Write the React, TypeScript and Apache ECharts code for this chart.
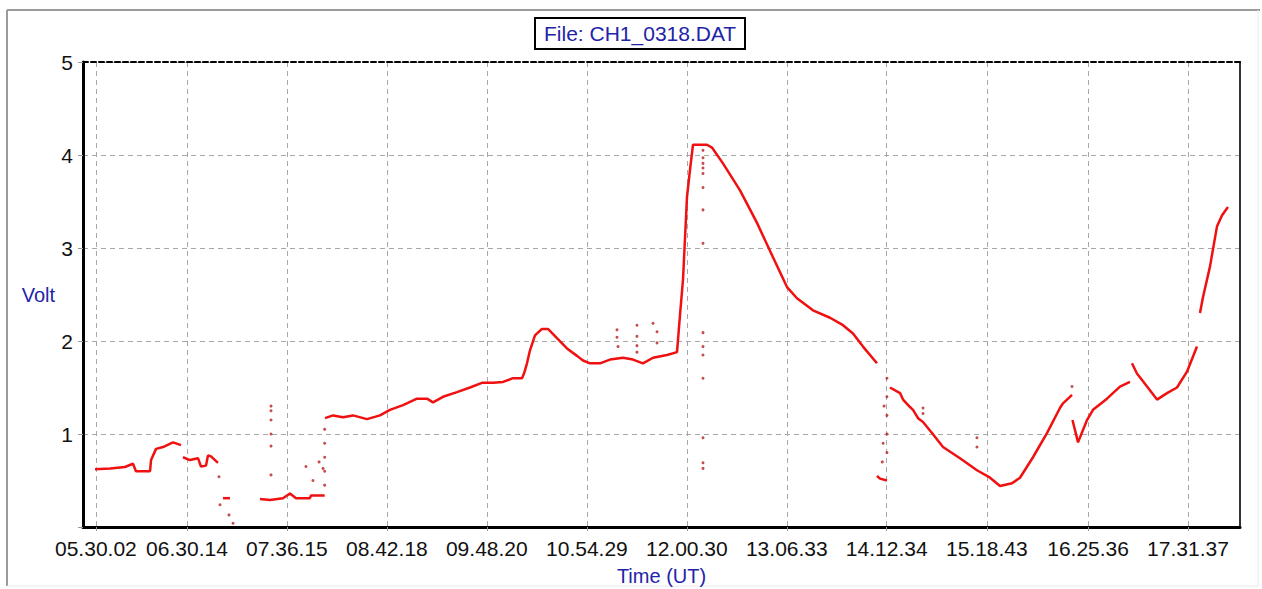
import React, { useEffect, useRef } from "react";
import * as echarts from "echarts";

// ---- axis definition ----
const TITLE = "File: CH1_0318.DAT";
const X_NAME = "Time (UT)";
const Y_NAME = "Volt";
const tickLabels = [
  "05.30.02", "06.30.14", "07.36.15", "08.42.18", "09.48.20", "10.54.29",
  "12.00.30", "13.06.33", "14.12.34", "15.18.43", "16.25.36", "17.31.37",
];
const X_MIN = 5.3587; // hours UT (~05:21:31)
const X_MAX = 18.0997; // hours UT (~18:06:00)
const Y_MIN = 0;
const Y_MAX = 5;

// ---- continuous trace segments: [hour UT, volt] ----
const segA = [[5.491, 0.62], [5.656, 0.63], [5.821, 0.645], [5.909, 0.68], [5.942, 0.6], [6.097, 0.6], [6.108, 0.72], [6.163, 0.84], [6.24, 0.86], [6.35, 0.91], [6.438, 0.88]];
const segB = [[6.46, 0.75], [6.537, 0.72], [6.625, 0.74], [6.658, 0.65], [6.713, 0.66], [6.735, 0.77], [6.768, 0.76], [6.845, 0.69]];
const segC = [[6.9, 0.31], [6.977, 0.31]];
const segD = [[7.308, 0.3], [7.418, 0.29], [7.561, 0.31], [7.638, 0.36], [7.704, 0.31], [7.858, 0.31], [7.869, 0.34], [8.002, 0.34], [8.02, 0.34]];
const segE = [[8.024, 1.17], [8.112, 1.2], [8.222, 1.18], [8.332, 1.2], [8.486, 1.16], [8.629, 1.2], [8.739, 1.26], [8.883, 1.31], [9.037, 1.38], [9.147, 1.38], [9.213, 1.34], [9.323, 1.4], [9.477, 1.45], [9.62, 1.5], [9.752, 1.55], [9.874, 1.55], [9.984, 1.56], [10.094, 1.6], [10.193, 1.6], [10.215, 1.65], [10.248, 1.76], [10.281, 1.9], [10.336, 2.06], [10.413, 2.13], [10.479, 2.13], [10.578, 2.03], [10.688, 1.92], [10.799, 1.84], [10.865, 1.79], [10.942, 1.76], [11.052, 1.76], [11.162, 1.8], [11.305, 1.82], [11.415, 1.8], [11.525, 1.76], [11.636, 1.82], [11.79, 1.85], [11.9, 1.88], [11.933, 2.28], [11.966, 2.66], [12.01, 3.55], [12.043, 3.84], [12.076, 4.11], [12.23, 4.11], [12.285, 4.08], [12.406, 3.91], [12.594, 3.62], [12.781, 3.27], [12.957, 2.9], [13.111, 2.58], [13.221, 2.46], [13.397, 2.33], [13.585, 2.25], [13.728, 2.17], [13.838, 2.08], [13.948, 1.94], [14.102, 1.76]];
const segF = [[14.102, 0.55], [14.135, 0.52], [14.212, 0.5]];
const segG = [[14.245, 1.5], [14.356, 1.44], [14.389, 1.37], [14.466, 1.29], [14.499, 1.26], [14.554, 1.17], [14.609, 1.13], [14.708, 1.01], [14.829, 0.86], [15.016, 0.74], [15.203, 0.61], [15.347, 0.53], [15.457, 0.44], [15.589, 0.47], [15.677, 0.53], [15.82, 0.75], [15.974, 1.01], [16.117, 1.28], [16.151, 1.33], [16.25, 1.42]];
const segH = [[16.255, 1.15], [16.316, 0.91], [16.415, 1.15], [16.481, 1.26], [16.635, 1.38], [16.778, 1.51], [16.888, 1.56]];
const segI = [[16.91, 1.76], [16.965, 1.65], [17.076, 1.51], [17.186, 1.37], [17.296, 1.44], [17.406, 1.5], [17.516, 1.67], [17.626, 1.94]];
const segJ = [[17.659, 2.3], [17.692, 2.47], [17.769, 2.8], [17.846, 3.23], [17.901, 3.35], [17.967, 3.44]];
const segments = [segA, segB, segC, segD, segE, segF, segG, segH, segI, segJ];

// ---- isolated samples (spikes / scattered dots) ----
const strayDots = [
  [6.856, 0.54], [6.867, 0.24], [6.966, 0.13], [7.011, 0.04],
  [7.429, 1.3], [7.429, 1.25], [7.429, 1.15], [7.429, 1.0], [7.429, 0.87], [7.429, 0.56],
  [7.814, 0.65], [7.891, 0.5], [7.958, 0.7], [8.002, 0.63],
  [8.02, 0.45], [8.02, 0.6], [8.02, 0.75], [8.02, 0.9], [8.02, 1.05],
  [11.239, 2.12], [11.239, 2.04], [11.25, 1.94], [11.459, 2.17], [11.459, 2.05], [11.459, 1.95], [11.459, 1.88],
  [11.636, 2.19], [11.68, 2.1], [11.68, 1.98],
  [12.186, 4.05], [12.186, 3.97], [12.186, 3.91], [12.186, 3.86], [12.186, 3.8], [12.186, 3.65], [12.186, 3.41], [12.186, 3.05],
  [12.186, 2.09], [12.186, 1.94], [12.186, 1.85], [12.186, 1.6], [12.186, 0.96], [12.186, 0.69], [12.186, 0.63],
  [14.212, 1.6], [14.212, 1.4], [14.212, 1.2], [14.212, 1.0], [14.212, 0.8], [14.18, 1.3], [14.17, 0.9], [14.16, 0.7],
  [14.609, 1.28], [14.609, 1.22], [15.203, 0.96], [15.203, 0.86], [16.25, 1.51],
];

const FONT = "'Liberation Sans', Arial, sans-serif";
const BLUE = "#2323a8";

function toHours(s: string): number {
  const [h, m, sec] = s.split(".").map(Number);
  return h + m / 60 + sec / 3600;
}
const tickHours = tickLabels.map(toHours);

function fmtTick(v: number): string {
  const i = tickHours.findIndex((t) => Math.abs(t - v) < 1e-6);
  return i >= 0 ? tickLabels[i] : "";
}

export default function App() {
  const ref = useRef<HTMLDivElement>(null);
  useEffect(() => {
    if (!ref.current) return;
    const chart = echarts.init(ref.current, null, { renderer: "svg" });
    const lineSeries = segments.map((seg) => ({
      type: "line",
      data: seg,
      xAxisIndex: 0,
      yAxisIndex: 0,
      showSymbol: false,
      symbol: "none",
      lineStyle: { color: "#f01010", width: 2.5 },
      silent: true,
      z: 5,
    }));
    chart.setOption({
      animation: false,
      backgroundColor: "#ffffff",
      title: {
        text: TITLE,
        left: 535,
        top: 18,
        borderColor: "#000",
        borderWidth: 2,
        padding: [5, 9],
        textStyle: { color: BLUE, fontSize: 21, fontWeight: "normal", fontFamily: FONT },
      },
      grid: { left: 83, right: 22, top: 62, bottom: 62, outerBoundsMode: "none" },
      xAxis: [
        {
          type: "value",
          min: X_MIN,
          max: X_MAX,
          position: "bottom",
          name: X_NAME,
          nameLocation: "middle",
          nameGap: 39,
          nameTextStyle: { color: BLUE, fontSize: 20, fontFamily: FONT },
          axisLine: { show: true, onZero: false, lineStyle: { color: "#000", width: 3 } },
          axisTick: { show: true, customValues: tickHours, length: 6, lineStyle: { color: "#999", type: "dashed" } },
          axisLabel: { customValues: tickHours, formatter: fmtTick, fontSize: 21, color: "#111", margin: 11, fontFamily: FONT },
          splitLine: { show: true, lineStyle: { color: "#a8a8a8", type: [5, 4], width: 1 } },
        },
        {
          type: "value",
          min: X_MIN,
          max: X_MAX,
          position: "top",
          axisLine: { show: true, onZero: false, lineStyle: { color: "#000", width: 2, type: [5, 3] } },
          axisTick: { show: false },
          axisLabel: { show: false },
          splitLine: { show: false },
        },
      ],
      yAxis: [
        {
          type: "value",
          min: Y_MIN,
          max: Y_MAX,
          interval: 1,
          name: Y_NAME,
          nameLocation: "middle",
          nameRotate: 0,
          nameGap: 28,
          nameTextStyle: { color: BLUE, fontSize: 20, fontFamily: FONT },
          axisLine: { show: true, onZero: false, lineStyle: { color: "#000", width: 3 } },
          axisTick: { show: true, length: 5, lineStyle: { color: "#999" } },
          axisLabel: {
            formatter: (v: number) => (v === 0 ? "" : String(v)),
            fontSize: 21,
            color: "#111",
            margin: 10,
            fontFamily: FONT,
          },
          splitLine: { show: true, lineStyle: { color: "#a8a8a8", type: [5, 4], width: 1 } },
        },
        {
          type: "value",
          min: Y_MIN,
          max: Y_MAX,
          position: "right",
          axisLine: { show: true, onZero: false, lineStyle: { color: "#333", width: 2 } },
          axisTick: { show: false },
          axisLabel: { show: false },
          splitLine: { show: false },
        },
      ],
      series: [
        ...lineSeries,
        {
          type: "scatter",
          data: strayDots,
          xAxisIndex: 0,
          yAxisIndex: 0,
          symbol: "circle",
          symbolSize: 3,
          itemStyle: { color: "#b82020" },
          silent: true,
          z: 4,
        },
      ],
      graphic: [
        { type: "line", shape: { x1: 7, y1: 10, x2: 1260, y2: 10 }, style: { stroke: "#9a9a9a", lineWidth: 2 }, silent: true },
        { type: "line", shape: { x1: 7, y1: 10, x2: 7, y2: 586 }, style: { stroke: "#9a9a9a", lineWidth: 2 }, silent: true },
        { type: "line", shape: { x1: 7, y1: 586, x2: 1258, y2: 586 }, style: { stroke: "#e8e8e8", lineWidth: 1 }, silent: true },
        { type: "line", shape: { x1: 1258, y1: 10, x2: 1258, y2: 586 }, style: { stroke: "#e8e8e8", lineWidth: 1 }, silent: true },
      ],
    });
    return () => chart.dispose();
  }, []);
  return (
    <div
      ref={ref}
      style={{ position: "absolute", left: 0, top: 0, width: 1262, height: 589, background: "#fff" }}
    />
  );
}
